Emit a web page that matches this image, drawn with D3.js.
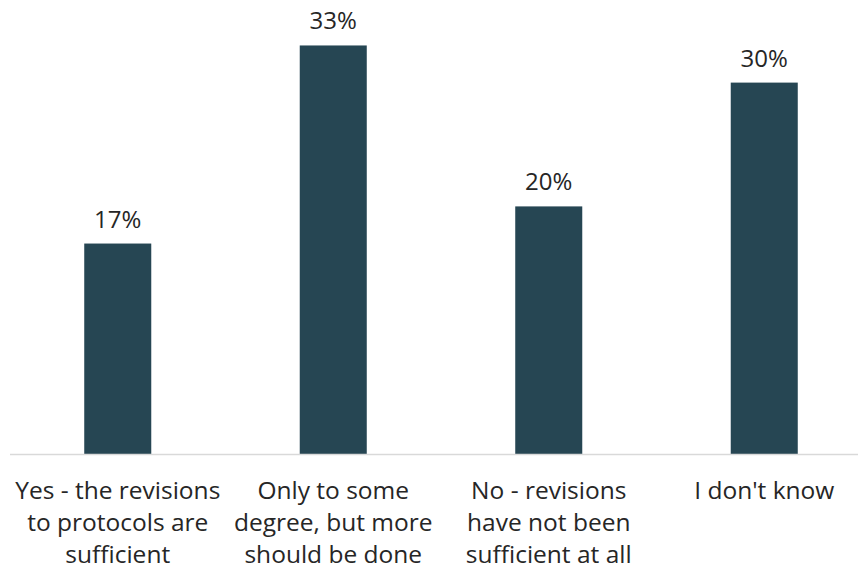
<!DOCTYPE html>
<html>
<head>
<meta charset="utf-8">
<script src="https://cdn.jsdelivr.net/npm/d3@7"></script>
<style>
  html, body { margin: 0; padding: 0; background: #ffffff; }
  svg { display: block; }
  text { font-family: "Open Sans", "Noto Sans", sans-serif; fill: #262626; }
</style>
</head>
<body>
<svg id="chart" width="859" height="571"></svg>
<script>
// Survey responses: have protocol revisions been sufficient?
const categories = [
  ["Yes - the revisions", "to protocols are", "sufficient"],
  ["Only to some", "degree, but more", "should be done"],
  ["No - revisions", "have not been", "sufficient at all"],
  ["I don't know"]
];
const shares = [17, 33, 20, 30];
const valueLabels = ["17%", "33%", "20%", "30%"];

const svg = d3.select("#chart");
const baseline = 454;

const x = d3.scaleBand()
  .domain(d3.range(categories.length))
  .range([10, 872])
  .paddingInner(0.689)
  .paddingOuter(0.3445);

const y = d3.scaleLinear()
  .domain([0, 35])
  .range([baseline, baseline - 35 * 12.38]);

// Bars
svg.append("g")
  .selectAll("rect")
  .data(shares)
  .join("rect")
  .attr("x", (d, i) => x(i))
  .attr("y", d => y(d))
  .attr("width", x.bandwidth())
  .attr("height", d => y(0) - y(d))
  .attr("fill", "#264653");

// Baseline axis
svg.append("line")
  .attr("x1", 10).attr("x2", 858)
  .attr("y1", baseline + 0.5).attr("y2", baseline + 0.5)
  .attr("stroke", "#d9d9d9")
  .attr("stroke-width", 1.5);

// Value labels
svg.append("g")
  .selectAll("text")
  .data(shares)
  .join("text")
  .attr("x", (d, i) => x(i) + x.bandwidth() / 2)
  .attr("y", d => y(d) - 16)
  .attr("text-anchor", "middle")
  .style("font-size", "24px")
  .text((d, i) => valueLabels[i]);

// Category labels (multi-line)
const cat = svg.append("g")
  .selectAll("text")
  .data(categories)
  .join("text")
  .attr("x", (d, i) => x(i) + x.bandwidth() / 2)
  .attr("y", 499)
  .attr("text-anchor", "middle")
  .style("font-size", "24.5px");

cat.selectAll("tspan")
  .data(d => d)
  .join("tspan")
  .attr("x", function () { return d3.select(this.parentNode).attr("x"); })
  .attr("dy", (d, j) => j === 0 ? 0 : 32)
  .text(d => d);
</script>
</body>
</html>
